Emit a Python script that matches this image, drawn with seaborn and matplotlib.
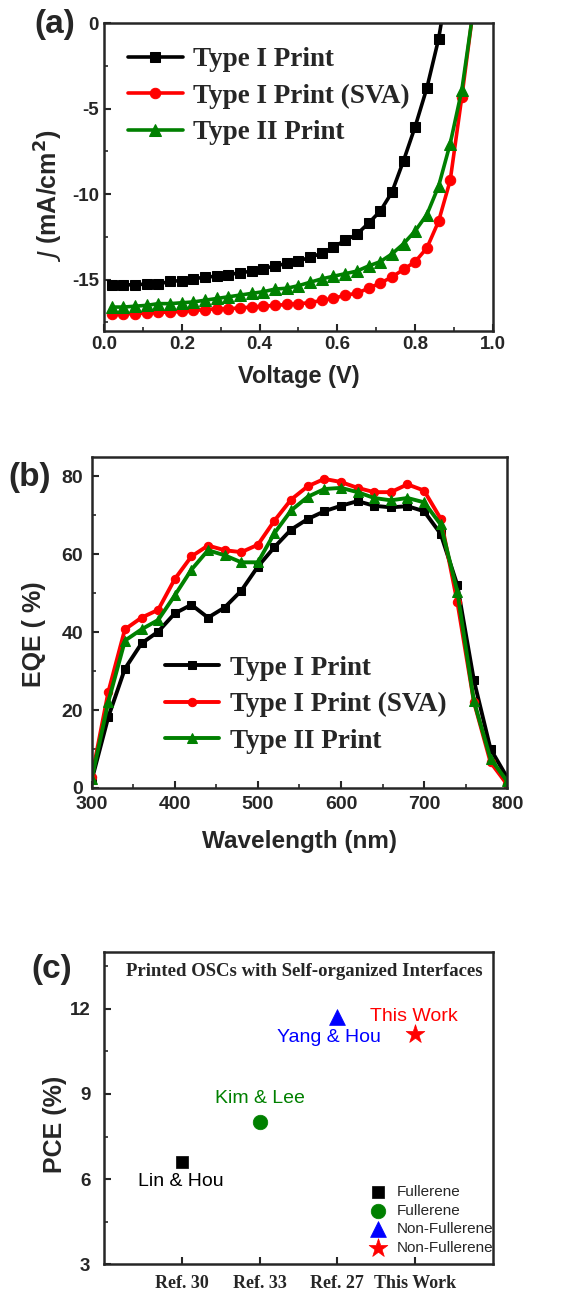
import numpy as np
import pandas as pd
import seaborn as sns
import matplotlib
matplotlib.use("Agg")
import matplotlib.pyplot as plt
from matplotlib.ticker import MultipleLocator

# ---- (a) J-V data ----
v_pts = [0.02, 0.05, 0.08, 0.11, 0.14, 0.17, 0.20, 0.23, 0.26, 0.29, 0.32, 0.35,
         0.38, 0.41, 0.44, 0.47, 0.50, 0.53, 0.56, 0.59, 0.62, 0.65, 0.68, 0.71,
         0.74, 0.77, 0.80, 0.83, 0.86, 0.89, 0.92]
j_type1 = [-15.3, -15.3, -15.3, -15.25, -15.25, -15.1, -15.05, -14.95, -14.85, -14.8,
           -14.7, -14.6, -14.5, -14.35, -14.2, -14.05, -13.9, -13.7, -13.45, -13.1,
           -12.7, -12.35, -11.7, -11.0, -9.9, -8.05, -6.05, -3.8, -0.95]
j_sva = [-17.0, -17.0, -16.98, -16.95, -16.9, -16.9, -16.85, -16.8, -16.75, -16.7,
         -16.7, -16.65, -16.6, -16.55, -16.5, -16.45, -16.4, -16.35, -16.2, -16.1,
         -15.9, -15.8, -15.5, -15.2, -14.85, -14.4, -13.95, -13.15, -11.6, -9.2, -4.3]
j_type2 = [-16.6, -16.6, -16.55, -16.5, -16.4, -16.4, -16.35, -16.3, -16.2, -16.1,
           -16.0, -15.9, -15.8, -15.7, -15.55, -15.5, -15.35, -15.15, -14.95, -14.8,
           -14.65, -14.5, -14.2, -13.95, -13.5, -12.9, -12.15, -11.2, -9.55, -7.05, -3.9]
# open-circuit end points (line only)
voc_type1 = (0.87, 0.4)
voc_sva = (0.947, 0.4)
voc_type2 = (0.947, 0.4)

# ---- (b) EQE data ----
wl = list(range(300, 801, 20))
eqe_type1 = [2.0, 18.2, 30.6, 37.1, 40.1, 44.8, 47.0, 43.7, 46.3, 50.6, 56.8, 61.8,
             66.3, 69.0, 71.0, 72.4, 73.6, 72.4, 72.0, 72.3, 71.0, 65.2, 52.1, 27.6,
             10.0, 2.7]
eqe_sva = [2.7, 24.6, 40.7, 43.7, 45.7, 53.6, 59.4, 62.2, 61.0, 60.5, 62.4, 68.6,
           74.0, 77.4, 79.3, 78.5, 77.0, 75.9, 75.9, 77.9, 76.3, 69.1, 47.8, 22.1,
           6.6, 0.9]
eqe_type2 = [2.3, 22.1, 37.8, 40.7, 43.1, 49.4, 56.0, 61.0, 59.7, 57.9, 57.9, 65.4,
             71.2, 74.7, 76.7, 77.0, 75.9, 74.4, 73.8, 74.4, 73.3, 67.6, 50.4, 22.3,
             7.5, 1.7]

# ---- (c) PCE comparison ----
refs = ["Ref. 30", "Ref. 33", "Ref. 27", "This Work"]
pce = [6.6, 8.0, 11.7, 11.1]
acceptor = ["Fullerene", "Fullerene", "Non-Fullerene", "Non-Fullerene"]
authors = ["Lin & Hou", "Kim & Lee", "Yang & Hou", "This Work"]

sns.set_style("white")
plt.rcParams["font.family"] = ["Liberation Sans", "DejaVu Sans"]
plt.rcParams["axes.linewidth"] = 1.8
plt.rcParams["xtick.direction"] = "in"
plt.rcParams["ytick.direction"] = "in"

SERIF = ["Liberation Serif", "DejaVu Serif"]
labels3 = ["Type I Print", "Type I Print (SVA)", "Type II Print"]
colors3 = ["black", "red", "green"]
markers3 = ["s", "o", "^"]

fig = plt.figure(figsize=(5.66, 12.93), dpi=100)


def style_ticks(ax, size):
    ax.tick_params(which="major", length=5, width=1.5, labelsize=size,
                   bottom=True, left=True, top=False, right=False)
    ax.tick_params(which="minor", length=3, width=1.2,
                   bottom=True, left=True, top=False, right=False)
    for lab in ax.get_xticklabels() + ax.get_yticklabels():
        lab.set_fontweight("bold")


# ---------------- (a) ----------------
ax1 = fig.add_axes([0.1837, 0.744, 0.6873, 0.2382])
jv_sets = [(j_type1, voc_type1), (j_sva, voc_sva), (j_type2, voc_type2)]
for (jv, voc), lab, c, m in zip(jv_sets, labels3, colors3, markers3):
    xs = v_pts[:len(jv)] + [voc[0]]
    ys = jv + [voc[1]]
    df = pd.DataFrame({"V": xs, "J": ys})
    sns.lineplot(data=df, x="V", y="J", ax=ax1, color=c, lw=2.6, marker=m,
                 markersize=7.5 if m != "^" else 8.5, markeredgecolor=c,
                 markevery=list(range(len(jv))), label=lab, sort=False)
ax1.set_xlim(0, 1.0)
ax1.set_ylim(-18, 0)
ax1.xaxis.set_major_locator(MultipleLocator(0.2))
ax1.xaxis.set_minor_locator(MultipleLocator(0.1))
ax1.yaxis.set_major_locator(MultipleLocator(5))
ax1.yaxis.set_minor_locator(MultipleLocator(2.5))
ax1.set_yticks([0, -5, -10, -15])
ax1.set_yticklabels(["0", "-5", "-10", "-15"])
style_ticks(ax1, 13.5)
ax1.set_xlabel("Voltage (V)", fontsize=17, fontweight="bold", labelpad=9)
ax1.set_ylabel(r"$\bf{\it{J}}$ (mA/cm$^\mathbf{2}$)", fontsize=18, fontweight="bold")
ax1.yaxis.set_label_coords(-0.1, 0.44)
ax1.legend(loc="upper left", bbox_to_anchor=(0.028, 0.965), frameon=False,
           prop={"family": SERIF, "weight": "bold", "size": 19.5},
           handlelength=2.0, handletextpad=0.4, labelspacing=0.42, borderpad=0)
fig.text(0.097, 0.981, "(a)", fontsize=24, fontweight="bold", ha="center", va="center")

# ---------------- (b) ----------------
ax2 = fig.add_axes([0.162, 0.3906, 0.734, 0.2562])
for ys, lab, c, m in zip([eqe_type1, eqe_sva, eqe_type2], labels3, colors3, markers3):
    df = pd.DataFrame({"wl": wl, "eqe": ys})
    sns.lineplot(data=df, x="wl", y="eqe", ax=ax2, color=c, lw=2.8, marker=m,
                 markersize=6 if m != "^" else 7, markeredgecolor=c, label=lab)
ax2.set_xlim(300, 800)
ax2.set_ylim(0, 85)
ax2.xaxis.set_major_locator(MultipleLocator(100))
ax2.xaxis.set_minor_locator(MultipleLocator(50))
ax2.yaxis.set_major_locator(MultipleLocator(20))
ax2.yaxis.set_minor_locator(MultipleLocator(10))
style_ticks(ax2, 14)
ax2.tick_params(axis="y", pad=6)
ax2.tick_params(axis="x", pad=6)
ax2.set_xlabel("Wavelength (nm)", fontsize=17.5, fontweight="bold", labelpad=12)
ax2.set_ylabel("EQE ( %)", fontsize=18, fontweight="bold")
ax2.yaxis.set_label_coords(-0.11, 0.465)
ax2.legend(loc="upper left", bbox_to_anchor=(0.143, 0.44), frameon=False,
           prop={"family": SERIF, "weight": "bold", "size": 19.5},
           handlelength=2.0, handletextpad=0.4, labelspacing=0.42, borderpad=0)
fig.text(0.053, 0.631, "(b)", fontsize=24, fontweight="bold", ha="center", va="center")

# ---------------- (c) ----------------
ax3 = fig.add_axes([0.184, 0.0224, 0.6868, 0.2411])
pce_df = pd.DataFrame({"pos": range(len(refs)), "pce": pce, "acc": acceptor})
pt_colors = ["black", "green", "blue", "red"]
pt_markers = ["s", "o", "^", "*"]
pt_sizes = [85, 110, 130, 200]
for i in range(len(refs)):
    sns.scatterplot(data=pce_df.iloc[[i]], x="pos", y="pce", ax=ax3,
                    color=pt_colors[i], marker=pt_markers[i], s=pt_sizes[i],
                    edgecolor=pt_colors[i], linewidth=0.5, label=acceptor[i])
text_xy = [(-0.02, 5.9), (1.0, 8.83), (1.89, 11.0), (2.98, 11.74)]
for (tx, ty), name, c in zip(text_xy, authors, pt_colors):
    ax3.text(tx, ty, name, color=c, fontsize=14, fontweight="medium", ha="center", va="center")
ax3.text(0.516, 0.938, "Printed OSCs with Self-organized Interfaces", transform=ax3.transAxes,
         family=SERIF, fontweight="bold", fontsize=13.5, ha="center", va="center")
ax3.set_xlim(-1, 4)
ax3.set_ylim(3, 14)
ax3.set_xticks(range(len(refs)))
ax3.set_xticklabels(refs)
ax3.yaxis.set_major_locator(MultipleLocator(3))
ax3.yaxis.set_minor_locator(MultipleLocator(1.5))
style_ticks(ax3, 13.5)
for lab in ax3.get_xticklabels():
    lab.set_family(SERIF)
    lab.set_fontsize(13)
ax3.tick_params(axis="x", pad=8)
ax3.tick_params(axis="y", pad=10)
ax3.set_xlabel("")
ax3.set_ylabel("PCE (%)", fontsize=18, fontweight="bold")
ax3.yaxis.set_label_coords(-0.095, 0.449)
ax3.legend(loc="upper left", bbox_to_anchor=(0.665, 0.278), frameon=False,
           prop={"size": 11}, handlelength=1.0, handletextpad=0.75,
           labelspacing=0.3, borderpad=0, markerscale=1.0)
fig.text(0.092, 0.25, "(c)", fontsize=24, fontweight="bold", ha="center", va="center")

fig.savefig("out.png", dpi=100)
